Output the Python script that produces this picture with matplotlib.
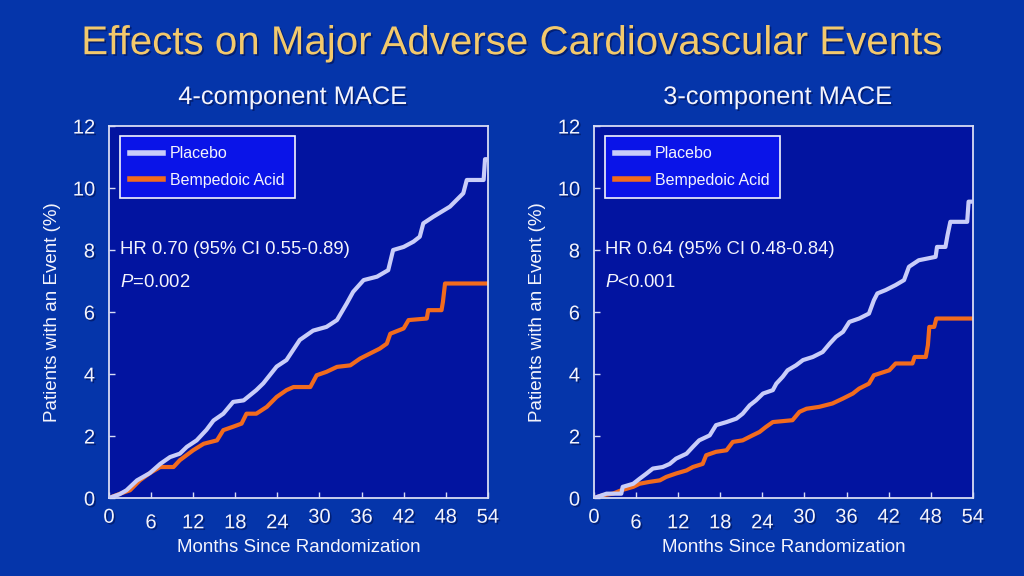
import matplotlib
matplotlib.use("Agg")
import matplotlib.pyplot as plt
import matplotlib.patheffects as pe

plt.rcParams['font.family'] = ['Liberation Sans', 'DejaVu Sans']
plt.rcParams['mathtext.fontset'] = 'custom'
plt.rcParams['mathtext.rm'] = 'Liberation Sans'
plt.rcParams['mathtext.it'] = 'Liberation Sans:italic'

# --- data (months, % with event) ---
# 4-component MACE
p4_x = [0, 1.5, 2.5, 4, 5.8, 7.3, 8.7, 10.1, 11.1, 12.5, 13.9, 14.9, 16.3, 17.7, 19.2,
        21, 22, 23.9, 25.3, 27.2, 29.1, 31, 32.5, 33.9, 34.8, 36.3, 38.2, 39.8, 40.5,
        42, 43.4, 44.3, 44.8, 46.2, 48.6, 50.5, 51, 53.4, 53.6, 54]
p4_y = [0, 0.12, 0.25, 0.57, 0.8, 1.1, 1.32, 1.43, 1.65, 1.86, 2.2, 2.5, 2.72, 3.1, 3.15,
        3.48, 3.7, 4.24, 4.45, 5.1, 5.4, 5.52, 5.74, 6.28, 6.65, 7.03, 7.14, 7.35, 8.0,
        8.1, 8.27, 8.43, 8.86, 9.07, 9.4, 9.83, 10.26, 10.26, 10.93, 10.93]
b4_x = [0, 1.6, 3, 4.4, 5.8, 7.3, 9.2, 10.1, 12, 13.5, 15.4, 16.3, 17.7, 18.9, 19.6,
        21, 22.5, 23.9, 25.3, 26.3, 28.7, 29.6, 31, 32.5, 34.4, 35.8, 37.2, 38.6, 39.6,
        40.1, 42, 42.7, 45.3, 45.5, 47.4, 47.6, 47.9, 54]
b4_y = [0, 0.14, 0.25, 0.57, 0.8, 1.0, 1.0, 1.22, 1.54, 1.75, 1.86, 2.19, 2.3, 2.4, 2.72,
        2.72, 2.94, 3.26, 3.48, 3.58, 3.58, 3.96, 4.07, 4.23, 4.28, 4.5, 4.66, 4.82, 4.98,
        5.3, 5.47, 5.74, 5.79, 6.06, 6.06, 6.33, 6.92, 6.92]

# 3-component MACE
p3_x = [0, 1.8, 3.9, 4.1, 5.6, 6.5, 7.5, 8.4, 9.8, 10.8, 11.7, 13.2, 14.1, 15, 16.5,
        17.4, 18.9, 20.3, 21.2, 22.2, 23.1, 24.1, 25.5, 26, 26.9, 27.6, 28.8, 29.8, 31.2,
        32.6, 33.6, 34.5, 35.5, 36.4, 37.8, 39.2, 39.9, 40.4, 41.6, 43, 44.2, 44.9, 46.3,
        48.7, 48.9, 50.1, 50.4, 50.8, 53.2, 53.4, 54]
p3_y = [0, 0.14, 0.14, 0.36, 0.46, 0.62, 0.79, 0.95, 1.0, 1.1, 1.27, 1.43, 1.65, 1.86, 2.02,
        2.35, 2.45, 2.56, 2.72, 2.99, 3.15, 3.37, 3.48, 3.69, 3.91, 4.12, 4.28, 4.45, 4.55,
        4.71, 4.98, 5.2, 5.36, 5.68, 5.79, 5.95, 6.38, 6.6, 6.71, 6.87, 7.03, 7.46, 7.67,
        7.78, 8.1, 8.1, 8.48, 8.91, 8.91, 9.56, 9.56]
b3_x = [0, 1.3, 2.7, 3.9, 5.6, 6.5, 7.9, 9.4, 10.3, 11.7, 13.2, 14.1, 15.5, 16, 17.4,
        18.9, 19.8, 21.2, 22.6, 23.6, 24.5, 25.5, 28.3, 29.3, 30.3, 32.1, 34, 35.5, 36.9,
        37.8, 39.2, 39.9, 42.1, 43, 45.4, 45.7, 47.3, 47.6, 47.8, 48.5, 48.8, 54]
b3_y = [0, 0.09, 0.14, 0.25, 0.36, 0.46, 0.52, 0.57, 0.68, 0.79, 0.89, 1.0, 1.1, 1.38, 1.49,
        1.54, 1.81, 1.86, 2.02, 2.13, 2.29, 2.45, 2.51, 2.78, 2.88, 2.94, 3.05, 3.21, 3.37,
        3.53, 3.69, 3.96, 4.12, 4.34, 4.34, 4.55, 4.55, 4.93, 5.52, 5.52, 5.79, 5.79]

subtitles = ["4-component MACE", "3-component MACE"]
hr_text = ["HR 0.70 (95% CI 0.55-0.89)", "HR 0.64 (95% CI 0.48-0.84)"]
p_text = [r"$\mathit{P}$=0.002", r"$\mathit{P}$<0.001"]
major_ticks = [0, 30, 36, 42, 48, 54]
minor_ticks = [6, 12, 18, 24]
y_ticks = [0, 2, 4, 6, 8, 10, 12]

bg = '#0535aa'
plot_bg = '#0214a0'
white = '#f4f4fc'
placebo_c = '#c9cdf9'
bempe_c = '#f26b1d'
shadow = [pe.withSimplePatchShadow(offset=(1.2, -1.2), shadow_rgbFace='#001050', alpha=0.6)]

fig = plt.figure(figsize=(10.24, 5.76), dpi=100, facecolor=bg)

fig.text(0.5, 0.925, "Effects on Major Adverse Cardiovascular Events", color='#f3c96c',
         fontsize=29, ha='center', va='center', path_effects=shadow)

panels = [(p4_x, p4_y, b4_x, b4_y), (p3_x, p3_y, b3_x, b3_y)]
lefts = [0.1064, 0.580]

for i in range(2):
    px, py, bx, by = panels[i]
    ax = fig.add_axes([lefts[i], 0.1354, 0.370, 0.6458])
    ax.set_facecolor(plot_bg)
    ax.plot(px, py, color=placebo_c, lw=3, label='Placebo', zorder=3)
    ax.plot(bx, by, color=bempe_c, lw=3, label='Bempedoic Acid', zorder=2)
    ax.set_xlim(0, 54)
    ax.set_ylim(0, 12)
    for s in ax.spines.values():
        s.set_color('#d8dcf4')
        s.set_linewidth(1.3)

    ax.set_yticks(y_ticks, labels=[str(v) for v in y_ticks])
    ax.set_xticks(major_ticks, labels=[str(v) for v in major_ticks])
    ax.set_xticks(minor_ticks, labels=[str(v) for v in minor_ticks], minor=True)
    ax.tick_params(axis='both', which='both', direction='in', length=4, width=1,
                   color='#d8dcf4', labelcolor=white, labelsize=14.5)
    ax.tick_params(axis='x', which='major', pad=7)
    ax.tick_params(axis='x', which='minor', pad=11)
    ax.tick_params(axis='y', pad=10)
    for lab in ax.get_xticklabels() + ax.get_xticklabels(minor=True) + ax.get_yticklabels():
        lab.set_path_effects(shadow)

    ax.text(0.5, -0.133, "Months Since Randomization", transform=ax.transAxes,
            ha='center', va='center', color=white, fontsize=13.5)
    ax.text(-0.150, 0.5, "Patients with an Event (%)", transform=ax.transAxes,
            rotation=90, ha='center', va='center', color=white, fontsize=13.5)
    ax.text(0.485, 1.078, subtitles[i], transform=ax.transAxes, ha='center', va='center',
            color=white, fontsize=18.3, path_effects=shadow)
    ax.text(0.028, 0.667, hr_text[i], transform=ax.transAxes, ha='left', va='center',
            color=white, fontsize=13.3)
    ax.text(0.028, 0.580, p_text[i], transform=ax.transAxes, ha='left', va='center',
            color=white, fontsize=13.3)

    leg = ax.legend(loc='upper left', bbox_to_anchor=(0.028, 0.973), borderaxespad=0,
                    fancybox=False, framealpha=1, facecolor='#0a14e8', edgecolor=white,
                    fontsize=11.5, handlelength=2.05, handletextpad=0.45, borderpad=0.65,
                    labelspacing=0.7, labelcolor=white)
    leg.get_frame().set_linewidth(1.2)
    for h in leg.get_lines():
        h.set_linewidth(4)

fig.savefig('out.png', dpi=100, facecolor=bg)
